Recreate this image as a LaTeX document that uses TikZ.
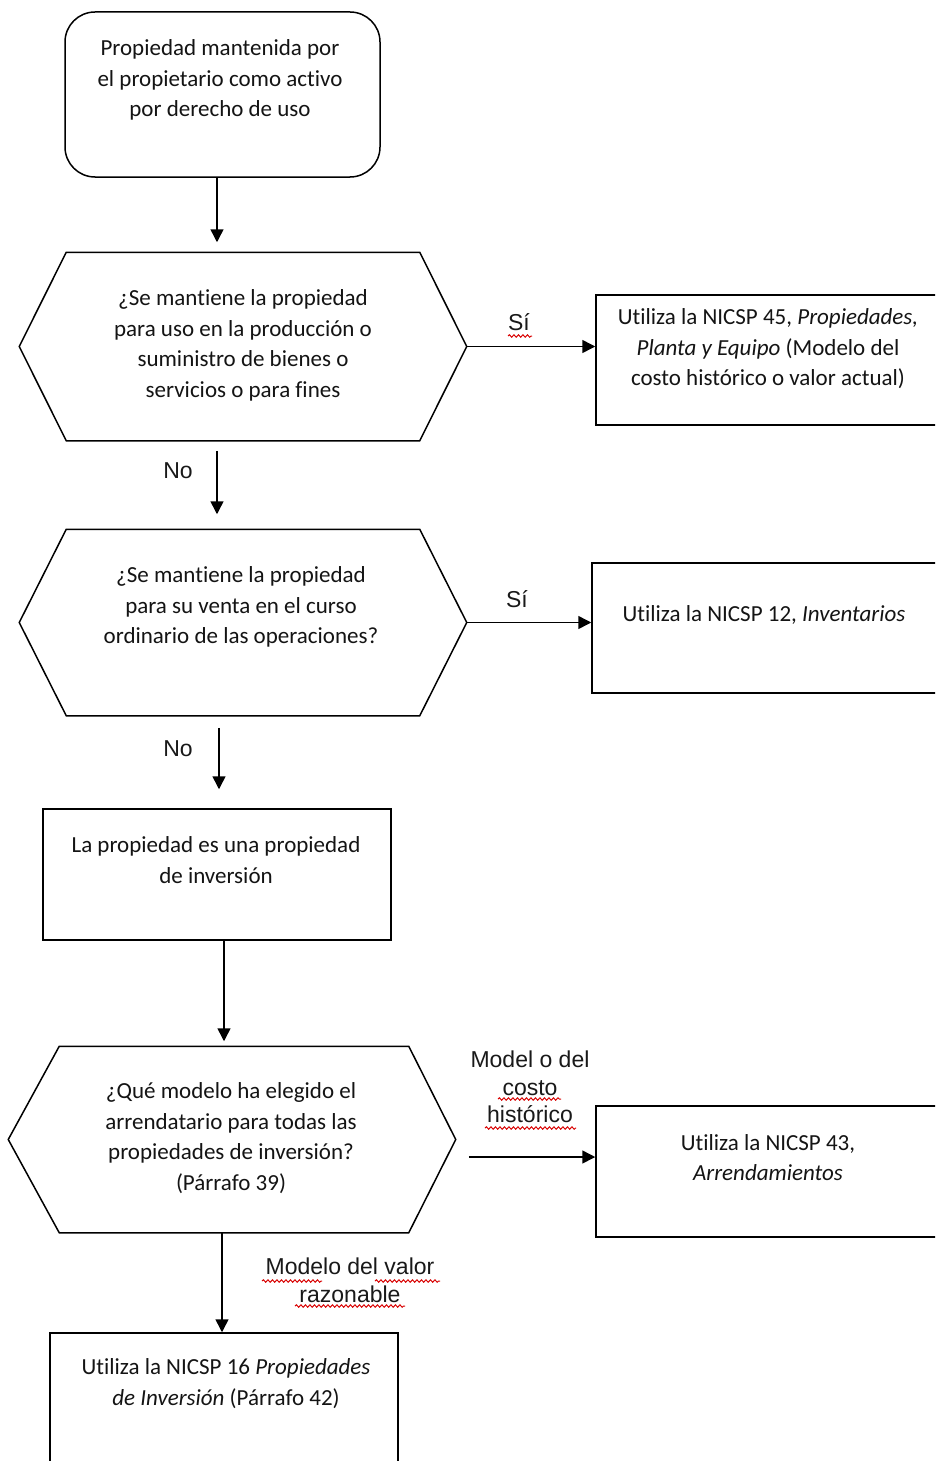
\documentclass[tikz,border=0pt]{standalone}
\usepackage{fontspec}
\setmainfont{Carlito}[Ligatures=NoCommon]
\newfontfamily\labelfont{Liberation Sans}
\usetikzlibrary{arrows.meta,decorations.pathmorphing}

\begin{document}
\begin{tikzpicture}[x=1pt,y=-1pt,line width=1.5pt,
  txt/.style={align=center,inner sep=0pt,text=black!92,
    font=\fontsize{23}{30.5}\selectfont},
  lbl/.style={align=center,inner sep=0pt,text=black!90,
    font=\labelfont\fontsize{23}{27.5}\selectfont},
  shapebox/.style={draw,inner sep=0pt},
  hexbase/.style={inner sep=0pt,minimum width=446pt},
  arr/.style={-{Triangle[length=13pt,width=13pt]}},
  squiggle/.style={draw=red!85!black,line width=1pt,
    decorate,decoration={snake,amplitude=1.2pt,segment length=4.5pt}}
]
\useasboundingbox (0,0) rectangle (935,1461);
\clip (0,0) rectangle (935,1461);
\fill[white] (0,0) rectangle (935,1461);

% start box
\node[shapebox,rounded corners=30pt,minimum width=315pt,minimum height=165pt] (start) at (222.5,94.5) {};
\node[txt] (starttxt) at (220,80) {Propiedad mantenida por\\el propietario como activo\\por derecho de uso};

% first decision
\node[hexbase,minimum height=187pt] (h1) at (243,346.5) {};
\draw (h1.west) -- ([xshift=47pt]h1.north west) -- ([xshift=-47pt]h1.north east)
  -- (h1.east) -- ([xshift=-47pt]h1.south east) -- ([xshift=47pt]h1.south west) -- cycle;
\node[txt] (h1txt) at (243,345.5) {¿Se mantiene la propiedad\\para uso en la producción o\\suministro de bienes o\\servicios o para fines};

\node[shapebox,minimum width=349pt,minimum height=130pt] (b1) at (770.5,360) {};
\node[txt] (b1txt) at (768,349) {Utiliza la NICSP 45, \textit{Propiedades,}\\\textit{Planta y Equipo} (Modelo del\\costo histórico o valor actual)};

% second decision
\node[hexbase,minimum height=185pt] (h2) at (243,622.5) {};
\draw (h2.west) -- ([xshift=47pt]h2.north west) -- ([xshift=-47pt]h2.north east)
  -- (h2.east) -- ([xshift=-47pt]h2.south east) -- ([xshift=47pt]h2.south west) -- cycle;
\node[txt] (h2txt) at (241,607) {¿Se mantiene la propiedad\\para su venta en el curso\\ordinario de las operaciones?};

\node[shapebox,minimum width=353pt,minimum height=130pt] (b2) at (768.5,628) {};
\node[txt] (b2txt) at (764,615) {Utiliza la NICSP 12, \textit{Inventarios}};

% investment property
\node[shapebox,minimum width=348pt,minimum height=131pt] (b3) at (217,874.5) {};
\node[txt] (b3txt) at (216,860) {La propiedad es una propiedad\\de inversión};

% model choice
\node[hexbase,minimum height=185pt] (h3) at (232,1139.5) {};
\draw (h3.west) -- ([xshift=51pt]h3.north west) -- ([xshift=-47pt]h3.north east)
  -- (h3.east) -- ([xshift=-47pt]h3.south east) -- ([xshift=51pt]h3.south west) -- cycle;
\node[txt] (h3txt) at (231,1138) {¿Qué modelo ha elegido el\\arrendatario para todas las\\propiedades de inversión?\\(Párrafo 39)};

\node[shapebox,minimum width=349pt,minimum height=131pt] (b4) at (770.5,1171.5) {};
\node[txt] (b4txt) at (768,1157.5) {Utiliza la NICSP 43,\\\textit{Arrendamientos}};

\node[shapebox,minimum width=348pt,minimum height=147pt] (b5) at (224,1406.5) {};
\node[txt] (b5txt) at (226,1383.5) {Utiliza la NICSP 16 \textit{Propiedades}\\\textit{de Inversión} (Párrafo 42)};

% connectors
\draw[arr,shorten >=10pt] ([xshift=-5.5pt]start.south) -- ([xshift=-5.5pt]start.south |- h1.north);
\draw[arr] (h1.east) -- (b1.west |- h1.east);
\draw[arr,shorten <=10pt,shorten >=15pt] ([xshift=-26pt]h1.south) -- ([xshift=-26pt]h1.south |- h2.north);
\draw[arr] (h2.east) -- (b2.west |- h2.east);
\draw[arr,shorten <=12pt,shorten >=19pt] ([xshift=-24pt]h2.south) -- ([xshift=-24pt]h2.south |- b3.north);
\draw[arr,shorten >=5pt] ([xshift=7pt]b3.south) -- ([xshift=7pt]b3.south |- h3.north);
\draw[arr,shorten <=13pt] ([yshift=-17.5pt]h3.east) -- ([yshift=-17.5pt]h3.east -| b4.west);
\draw[arr] ([xshift=-10pt]h3.south) -- ([xshift=-10pt]h3.south |- b5.north);

% branch labels
\node[lbl] (si1) at (519,322) {Sí};
\node[lbl] (no1) at (178,471) {No};
\node[lbl] (si2) at (517,599) {Sí};
\node[lbl] (no2) at (178,749) {No};
\node[lbl] (costlbl) at (530,1087) {Model o del\\costo\\histórico};
\node[lbl] (fairlbl) at (350,1280.5) {Modelo del valor\\razonable};

% spelling marks
\path[squiggle] (508,336) -- (532,336);
\path[squiggle] (498,1099) -- (561,1099);
\path[squiggle] (485,1128) -- (576,1128);
\path[squiggle] (262,1281) -- (322,1281);
\path[squiggle] (375,1281) -- (440,1281);
\path[squiggle] (295,1306) -- (405,1306);
\end{tikzpicture}
\end{document}
